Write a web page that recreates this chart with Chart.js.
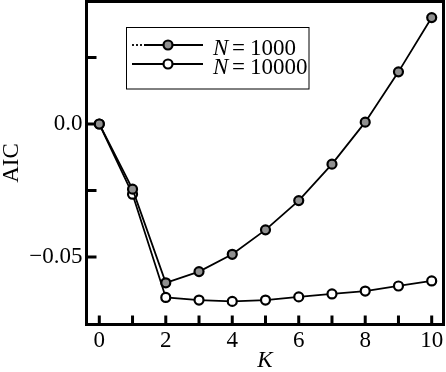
<!DOCTYPE html>
<html>
<head>
<meta charset="utf-8">
<script src="https://cdn.jsdelivr.net/npm/chart.js@4/dist/chart.umd.min.js"></script>
<style>
  html, body { margin: 0; padding: 0; background: #fff; }
  #wrap { width: 446px; height: 372px; }
</style>
</head>
<body>
<div id="wrap"><canvas id="aicChart" width="446" height="372"></canvas></div>
<script>
// valeurs
const kValues = [0, 1, 2, 3, 4, 5, 6, 7, 8, 9, 10];
const aicN1000 = [0, -0.0245, -0.0597, -0.0555, -0.0490, -0.0398, -0.0288, -0.0151, 0.0007, 0.0196, 0.0400];
const aicN10000 = [0, -0.0264, -0.0652, -0.0662, -0.0667, -0.0662, -0.0650, -0.0639, -0.0628, -0.0609, -0.0590];
const seriesLabels = ["1000", "10000"];

const xTicks = [0, 1, 2, 3, 4, 5, 6, 7, 8, 9, 10];
const xTickLabels = ["0", "", "2", "", "4", "", "6", "", "8", "", "10"];
const yTicks = [-0.05, -0.025, 0, 0.025];
const yTickLabels = ["\u22120.05", "", "0.0", ""];

const serif = "'Liberation Serif', 'Times New Roman', serif";

// cadre + graduations vers l'intérieur
const frameTicks = {
  id: "frameTicks",
  beforeDatasetsDraw(chart) {
    const { ctx, chartArea: a, scales } = chart;
    ctx.save();
    ctx.strokeStyle = "#000";
    ctx.lineWidth = 3;
    ctx.beginPath();
    scales.x.ticks.forEach(t => {
      const px = scales.x.getPixelForValue(t.value);
      ctx.moveTo(px, a.bottom);
      ctx.lineTo(px, a.bottom - 9);
    });
    scales.y.ticks.forEach(t => {
      const py = scales.y.getPixelForValue(t.value);
      ctx.moveTo(a.left, py);
      ctx.lineTo(a.left + 10, py);
    });
    ctx.stroke();
    ctx.strokeRect(a.left, a.top, a.right - a.left, a.bottom - a.top);
    ctx.restore();
  }
};

// légende encadrée avec N en italique
const boxLegend = {
  id: "boxLegend",
  afterDraw(chart) {
    const ctx = chart.ctx;
    const rows = [45, 64];
    ctx.save();
    ctx.fillStyle = "#fff";
    ctx.fillRect(126.5, 27.5, 182.5, 61.5);
    ctx.strokeStyle = "#000";
    ctx.lineWidth = 1;
    ctx.strokeRect(126.5, 27.5, 182.5, 61.5);
    chart.data.datasets.forEach((ds, i) => {
      const y = rows[i];
      ctx.strokeStyle = "#000";
      ctx.lineWidth = ds.borderWidth;
      ctx.beginPath();
      if (i === 0) {
        ctx.setLineDash([2, 2]);
        ctx.moveTo(132, y);
        ctx.lineTo(144, y);
        ctx.stroke();
        ctx.setLineDash([]);
        ctx.beginPath();
        ctx.moveTo(144, y);
      } else {
        ctx.moveTo(132, y);
      }
      ctx.lineTo(203, y);
      ctx.stroke();
      ctx.beginPath();
      ctx.arc(168, y, ds.pointRadius, 0, Math.PI * 2);
      ctx.fillStyle = ds.pointBackgroundColor;
      ctx.fill();
      ctx.lineWidth = ds.pointBorderWidth;
      ctx.stroke();

      ctx.fillStyle = "#000";
      ctx.textBaseline = "alphabetic";
      ctx.font = "italic 23px " + serif;
      ctx.fillText("N", 213, y + 10);
      ctx.font = "23px " + serif;
      ctx.fillText("=", 232, y + 10);
      ctx.fillText(seriesLabels[i], 250, y + 10);
    });
    ctx.restore();
  }
};

new Chart(document.getElementById("aicChart"), {
  type: "line",
  data: {
    datasets: [
      {
        label: "N = " + seriesLabels[0],
        data: kValues.map((k, i) => ({ x: k, y: aicN1000[i] })),
        borderColor: "#000",
        borderWidth: 1.8,
        pointRadius: 4.5,
        pointBorderWidth: 2.2,
        pointBorderColor: "#000",
        pointBackgroundColor: "#909090",
        tension: 0
      },
      {
        label: "N = " + seriesLabels[1],
        data: kValues.map((k, i) => ({ x: k, y: aicN10000[i] })),
        borderColor: "#000",
        borderWidth: 1.8,
        pointRadius: 4.5,
        pointBorderWidth: 2.2,
        pointBorderColor: "#000",
        pointBackgroundColor: "#fff",
        tension: 0
      }
    ]
  },
  options: {
    responsive: false,
    animation: false,
    devicePixelRatio: 1,
    layout: { autoPadding: false, padding: { top: 1.5, right: 2.5, left: 0, bottom: 0 } },
    plugins: { legend: { display: false }, tooltip: { enabled: false } },
    scales: {
      x: {
        type: "linear",
        min: -0.385,
        max: 10.355,
        afterBuildTicks: s => { s.ticks = xTicks.map(v => ({ value: v })); },
        afterFit: s => { s.height = 47.5; s.paddingLeft = 0; s.paddingRight = 0; },
        grid: { display: false, drawTicks: false },
        border: { display: false },
        ticks: {
          autoSkip: false,
          maxRotation: 0,
          padding: 3,
          color: "#000",
          font: { family: serif, size: 23 },
          callback: (v, i) => xTickLabels[i]
        },
        title: {
          display: true,
          text: "K",
          color: "#000",
          padding: { top: 0, bottom: 0 },
          font: { family: serif, size: 23, style: "italic", lineHeight: 1 }
        }
      },
      y: {
        min: -0.07538,
        max: 0.04605,
        afterBuildTicks: s => { s.ticks = yTicks.map(v => ({ value: v })); },
        afterFit: s => { s.width = 86.5; s.paddingTop = 0; s.paddingBottom = 0; },
        grid: { display: false, drawTicks: false },
        border: { display: false },
        ticks: {
          autoSkip: false,
          padding: 4,
          color: "#000",
          font: { family: serif, size: 23 },
          callback: (v, i) => yTickLabels[i]
        },
        title: {
          display: true,
          text: "AIC",
          color: "#000",
          padding: { top: 0, bottom: 0 },
          font: { family: serif, size: 23, lineHeight: 1 }
        }
      }
    }
  },
  plugins: [frameTicks, boxLegend]
});
</script>
</body>
</html>
